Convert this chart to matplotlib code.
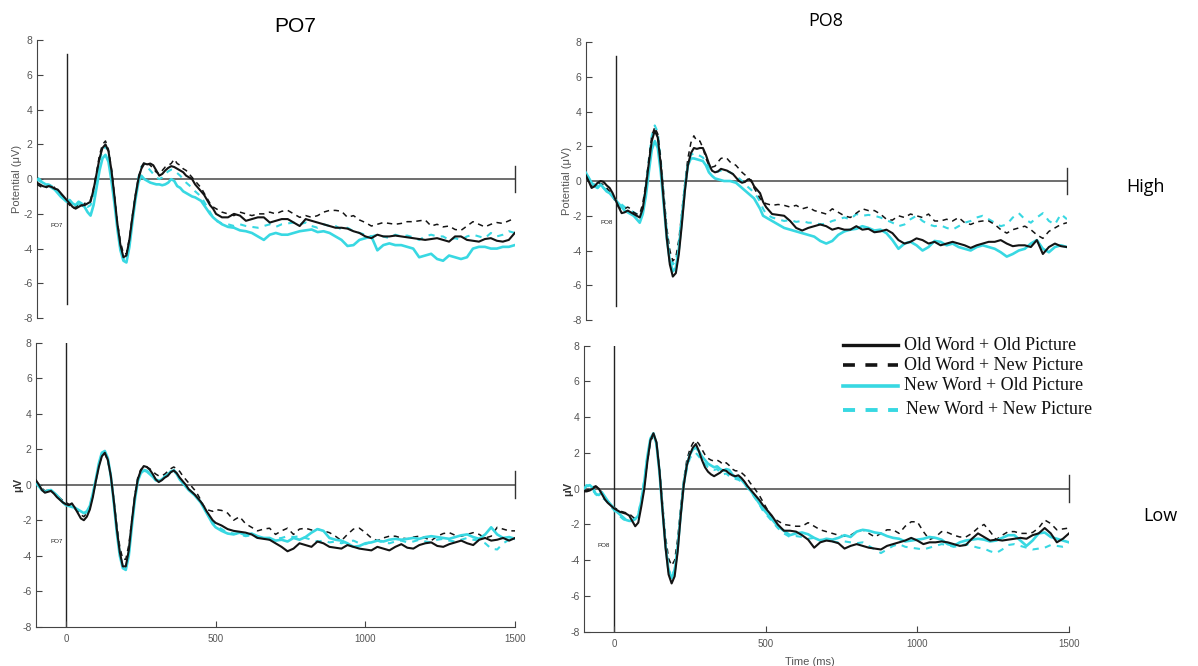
import matplotlib.pyplot as plt
from matplotlib.lines import Line2D

plt.rcParams['font.family'] = ['Liberation Sans', 'DejaVu Sans']
plt.rcParams['axes.unicode_minus'] = False

# sample times (ms): 10 ms steps up to 490, then 20 ms steps
times = list(range(-100, 500, 10)) + list(range(500, 1501, 20))

# PO7, high
po7_high_oo = [
    -0.2, -0.3, -0.4, -0.45, -0.4, -0.45, -0.55, -0.6, -0.8, -1.0,
    -1.2, -1.4, -1.6, -1.7, -1.6, -1.5, -1.5, -1.4, -1.3, -0.6,
    0.3, 1.2, 1.8, 2.0, 1.6, 0.5, -1.0, -2.6, -3.8, -4.5,
    -4.4, -3.5, -2.2, -1.0, 0.0, 0.6, 0.9, 0.85, 0.9, 0.8,
    0.5, 0.2, 0.3, 0.5, 0.65, 0.75, 0.7, 0.6, 0.5, 0.4,
    0.2, 0.1, 0.0, -0.3, -0.5, -0.7, -0.9, -1.2, -1.5, -1.7,
    -2.0, -2.2, -2.2, -2.0, -2.1, -2.4, -2.3, -2.2, -2.2, -2.5,
    -2.4, -2.3, -2.3, -2.5, -2.7, -2.3, -2.4, -2.5, -2.6, -2.7,
    -2.8, -2.8, -2.85, -3.0, -3.1, -3.3, -3.4, -3.2, -3.3, -3.3,
    -3.25, -3.3, -3.35, -3.4, -3.45, -3.5, -3.45, -3.4, -3.5, -3.6,
    -3.3, -3.3, -3.5, -3.55, -3.6, -3.45, -3.4, -3.55, -3.6, -3.5,
    -3.1]
po7_high_on = [
    -0.3, -0.4, -0.5, -0.5, -0.4, -0.3, -0.5, -0.7, -0.9, -1.1,
    -1.3, -1.5, -1.7, -1.6, -1.5, -1.6, -1.4, -1.3, -1.2, -0.5,
    0.4, 1.4, 2.0, 2.2, 1.7, 0.6, -0.9, -2.5, -3.6, -4.3,
    -4.3, -3.4, -2.1, -0.9, 0.1, 0.7, 1.0, 0.9, 0.8, 0.6,
    0.4, 0.3, 0.5, 0.7, 0.8, 0.9, 1.15, 0.9, 0.8, 0.6,
    0.5, 0.3, 0.1, -0.1, -0.3, -0.5, -0.8, -1.1, -1.4, -1.6,
    -1.7, -1.9, -2.0, -2.1, -1.9, -2.0, -2.1, -2.0, -2.0, -1.9,
    -2.0, -1.85, -1.8, -2.0, -2.2, -2.1, -2.2, -2.1, -1.9, -1.8,
    -1.8, -1.85, -2.2, -2.1, -2.35, -2.5, -2.7, -2.6, -2.5, -2.55,
    -2.6, -2.55, -2.45, -2.45, -2.4, -2.35, -2.7, -2.6, -2.75, -2.7,
    -2.9, -2.95, -2.7, -2.45, -2.6, -2.75, -2.6, -2.5, -2.55, -2.4,
    -2.25]
po7_high_no = [
    0.0, -0.1, -0.2, -0.3, -0.35, -0.5, -0.6, -0.8, -1.0, -1.15,
    -1.3, -1.2, -1.4, -1.5, -1.3, -1.4, -1.6, -1.9, -2.1, -1.5,
    -0.5, 0.5, 1.2, 1.4, 1.0, -0.1, -1.4, -2.9, -4.1, -4.7,
    -4.8, -3.9, -2.5, -1.2, -0.2, 0.2, 0.0, -0.1, -0.2, -0.25,
    -0.3, -0.3, -0.35, -0.3, -0.2, 0.0, -0.1, -0.4, -0.5, -0.7,
    -0.8, -0.9, -1.0, -1.05, -1.15, -1.25, -1.5, -1.75, -2.0, -2.2,
    -2.35, -2.6, -2.75, -2.8, -2.95, -3.0, -3.1, -3.3, -3.5, -3.2,
    -3.1, -3.2, -3.2, -3.1, -3.0, -2.95, -2.9, -3.05, -3.0, -3.1,
    -3.3, -3.5, -3.85, -3.8, -3.5, -3.4, -3.3, -4.1, -3.8, -3.7,
    -3.8, -3.8, -3.9, -4.0, -4.5, -4.4, -4.3, -4.6, -4.7, -4.4,
    -4.5, -4.6, -4.5, -4.0, -3.9, -3.9, -4.0, -4.0, -3.9, -3.9,
    -3.8]
po7_high_nn = [
    0.1, 0.0, -0.2, -0.3, -0.3, -0.4, -0.5, -0.7, -0.9, -1.1,
    -1.25, -1.3, -1.5, -1.55, -1.45, -1.5, -1.5, -1.6, -1.5, -0.9,
    0.0, 1.0, 1.7, 1.9, 1.5, 0.4, -1.1, -2.7, -3.9, -4.6,
    -4.6, -3.7, -2.3, -1.0, 0.1, 0.7, 0.9, 0.7, 0.5, 0.3,
    0.1, 0.0, 0.1, 0.3, 0.45, 0.55, 0.5, 0.35, 0.2, 0.0,
    -0.2, -0.35, -0.5, -0.7, -0.85, -1.0, -1.3, -1.6, -1.9, -2.2,
    -2.4, -2.55, -2.6, -2.7, -2.6, -2.7, -2.75, -2.8, -2.7, -2.6,
    -2.75, -2.6, -2.55, -2.5, -2.6, -2.5, -2.7, -2.8, -2.6, -2.7,
    -2.7, -2.9, -2.8, -3.0, -3.1, -3.2, -3.3, -3.2, -3.3, -3.4,
    -3.2, -3.3, -3.25, -3.35, -3.5, -3.3, -3.2, -3.3, -3.3, -3.5,
    -3.4, -3.5, -3.3, -3.2, -3.3, -3.4, -3.1, -3.3, -3.2, -3.0,
    -3.1]

# PO8, high
po8_high_oo = [
    0.35, 0.0, -0.4, -0.3, -0.1, 0.0, -0.05, -0.25, -0.4, -0.7,
    -1.1, -1.5, -1.85, -1.8, -1.7, -1.8, -1.9, -2.0, -2.1, -1.6,
    -0.4, 1.0, 2.3, 2.9, 2.5, 0.9, -1.2, -3.3, -4.8, -5.5,
    -5.3, -4.2, -2.5, -0.6, 0.9, 1.6, 1.9, 1.85, 1.9, 1.9,
    1.5, 1.0, 0.6, 0.5, 0.55, 0.7, 0.65, 0.6, 0.5, 0.4,
    0.2, 0.0, -0.1, -0.05, 0.1, 0.05, -0.3, -0.5, -0.7, -1.2,
    -1.5, -1.9, -1.95, -2.0, -2.3, -2.7, -2.85, -2.7, -2.6, -2.5,
    -2.6, -2.8, -2.7, -2.8, -2.8, -2.6, -2.8, -2.75, -2.95, -2.9,
    -2.8, -3.0, -3.4, -3.6, -3.5, -3.3, -3.4, -3.6, -3.5, -3.7,
    -3.6, -3.5, -3.6, -3.7, -3.85, -3.7, -3.6, -3.5, -3.5, -3.4,
    -3.6, -3.75, -3.7, -3.7, -3.8, -3.4, -4.2, -3.8, -3.6, -3.75,
    -3.8]
po8_high_on = [
    0.3, 0.0, -0.3, -0.2, -0.1, -0.15, -0.2, -0.4, -0.6, -0.9,
    -1.2, -1.5, -1.6, -1.6, -1.5, -1.6, -1.8, -1.9, -1.9, -1.3,
    -0.2, 1.2, 2.6, 3.1, 2.7, 1.2, -0.8, -2.7, -4.0, -4.6,
    -4.4, -3.4, -1.8, -0.1, 1.3, 2.2, 2.6, 2.3, 2.3, 1.9,
    1.3, 0.9, 0.8, 0.85, 1.1, 1.3, 1.35, 1.3, 1.1, 1.0,
    0.9, 0.7, 0.5, 0.35, 0.2, 0.0, -0.4, -0.7, -1.0, -1.2,
    -1.3, -1.4, -1.35, -1.4, -1.5, -1.4, -1.6, -1.5, -1.7, -1.8,
    -1.9, -1.6, -1.8, -2.0, -2.1, -1.85, -1.6, -1.7, -1.7, -1.9,
    -2.2, -2.25, -2.0, -2.1, -1.9, -2.0, -2.1, -1.9, -2.3, -2.3,
    -2.2, -2.3, -2.1, -2.4, -2.5, -2.35, -2.3, -2.3, -2.5, -2.8,
    -3.0, -2.8, -2.7, -2.6, -2.8, -3.1, -3.3, -2.9, -2.7, -2.5,
    -2.4]
po8_high_no = [
    0.5, 0.2, -0.1, -0.3, -0.4, -0.2, -0.4, -0.6, -0.7, -0.9,
    -1.1, -1.3, -1.5, -1.7, -1.8, -1.9, -2.0, -2.2, -2.4, -1.9,
    -0.9, 0.5, 1.8, 2.3, 1.9, 0.5, -1.4, -3.3, -4.6, -5.2,
    -5.0, -3.9, -2.2, -0.4, 0.9, 1.3, 1.3, 1.25, 1.2, 1.15,
    0.9, 0.5, 0.3, 0.15, 0.1, 0.05, 0.0, 0.0, 0.0, -0.05,
    -0.1, -0.25, -0.4, -0.55, -0.7, -0.85, -1.0, -1.3, -1.6, -2.0,
    -2.1, -2.3, -2.5, -2.7, -2.8, -2.9, -3.0, -3.1, -3.2, -3.45,
    -3.6, -3.45, -3.1, -2.9, -2.8, -2.75, -2.6, -2.7, -2.85, -2.8,
    -3.0, -3.4, -3.9, -3.6, -3.5, -3.7, -4.0, -3.8, -3.45, -3.5,
    -3.7, -3.6, -3.8, -3.9, -4.0, -3.8, -3.7, -3.8, -3.9, -4.1,
    -4.35, -4.2, -4.0, -3.9, -3.6, -3.4, -3.9, -4.1, -3.8, -3.7,
    -3.8]
po8_high_nn = [
    0.4, 0.2, -0.1, -0.2, -0.3, -0.2, -0.4, -0.5, -0.7, -0.9,
    -1.1, -1.2, -1.35, -1.5, -1.6, -1.7, -1.8, -1.9, -2.0, -1.5,
    -0.3, 1.2, 2.6, 3.2, 2.8, 1.2, -0.9, -2.9, -4.2, -4.8,
    -4.6, -3.5, -1.9, -0.3, 0.9, 1.5, 1.6, 1.5, 1.45, 1.35,
    1.1, 0.8, 0.55, 0.5, 0.55, 0.6, 0.6, 0.55, 0.5, 0.4,
    0.3, 0.15, 0.0, -0.2, -0.35, -0.5, -0.7, -0.9, -1.2, -1.6,
    -1.9, -2.1, -2.2, -2.3, -2.25, -2.35, -2.3, -2.4, -2.4, -2.5,
    -2.45, -2.3, -2.2, -2.1, -2.2, -1.9, -2.0, -1.95, -2.0, -2.1,
    -2.25, -2.4, -2.6, -2.5, -2.2, -2.0, -2.3, -2.5, -2.6, -2.55,
    -2.7, -2.8, -2.6, -2.4, -2.3, -2.1, -2.0, -2.2, -2.4, -2.6,
    -2.5, -2.1, -1.85, -2.2, -2.4, -2.1, -1.85, -2.3, -2.5, -1.9,
    -2.2]

# PO7, low
po7_low_oo = [
    0.25, 0.0, -0.3, -0.45, -0.4, -0.35, -0.5, -0.7, -0.85, -1.0,
    -1.1, -1.15, -1.05, -1.3, -1.6, -1.9, -2.0, -1.8, -1.4, -0.7,
    0.2, 1.0, 1.6, 1.8, 1.4, 0.5, -0.9, -2.5, -3.8, -4.6,
    -4.6, -3.7, -2.1, -0.7, 0.3, 0.8, 1.05, 1.0, 0.85, 0.6,
    0.3, 0.15, 0.25, 0.4, 0.5, 0.7, 0.8, 0.65, 0.4, 0.2,
    0.0, -0.25, -0.4, -0.55, -0.75, -0.95, -1.2, -1.5, -1.75, -2.0,
    -2.15, -2.3, -2.5, -2.6, -2.65, -2.7, -2.8, -3.0, -3.05, -3.1,
    -3.3, -3.5, -3.75, -3.6, -3.3, -3.4, -3.5, -3.2, -3.3, -3.5,
    -3.55, -3.6, -3.4, -3.5, -3.6, -3.65, -3.7, -3.5, -3.6, -3.7,
    -3.5, -3.35, -3.55, -3.6, -3.4, -3.3, -3.25, -3.45, -3.5, -3.35,
    -3.25, -3.15, -3.3, -3.4, -3.1, -3.0, -3.15, -3.1, -3.0, -3.15,
    -3.0]
po7_low_on = [
    0.2, 0.0, -0.2, -0.35, -0.3, -0.3, -0.45, -0.6, -0.75, -0.9,
    -1.0, -1.1, -1.2, -1.35, -1.5, -1.7, -1.8, -1.6, -1.2, -0.5,
    0.3, 1.1, 1.6, 1.75, 1.35, 0.5, -0.8, -2.3, -3.5, -4.2,
    -4.2, -3.4, -2.0, -0.6, 0.4, 0.85, 1.0, 1.0, 0.9, 0.75,
    0.6, 0.5, 0.5, 0.6, 0.75, 0.9, 1.0, 0.9, 0.75, 0.5,
    0.3, 0.1, -0.1, -0.3, -0.55, -0.85, -1.2, -1.4, -1.45, -1.5,
    -1.4, -1.45, -1.6, -2.0, -1.8, -2.2, -2.4, -2.6, -2.5, -2.45,
    -2.8, -2.6, -2.45, -2.8, -2.5, -2.45, -2.55, -2.5, -2.6, -2.7,
    -2.9, -3.15, -2.8, -2.5, -2.45, -2.7, -3.0, -3.15, -3.0, -2.9,
    -2.9, -3.0, -3.05, -2.95, -2.9, -3.0, -3.15, -2.9, -2.75, -2.7,
    -2.85, -2.9, -2.8, -2.7, -2.8, -3.0, -2.9, -2.4, -2.5, -2.6,
    -2.6]
po7_low_no = [
    0.1, -0.1, -0.3, -0.4, -0.35, -0.3, -0.45, -0.6, -0.8, -1.0,
    -1.15, -1.2, -1.25, -1.3, -1.4, -1.5, -1.6, -1.5, -1.2, -0.5,
    0.3, 1.2, 1.8, 1.9, 1.5, 0.5, -1.0, -2.7, -4.0, -4.7,
    -4.8, -4.0, -2.4, -0.9, 0.2, 0.65, 0.8, 0.75, 0.6, 0.45,
    0.25, 0.2, 0.3, 0.45, 0.55, 0.75, 0.8, 0.6, 0.3, 0.1,
    -0.1, -0.3, -0.45, -0.6, -0.8, -1.0, -1.3, -1.6, -1.9, -2.2,
    -2.4, -2.6, -2.75, -2.8, -2.7, -2.85, -2.75, -2.9, -3.0, -3.0,
    -3.15, -3.1, -3.2, -3.0, -3.1, -2.95, -2.7, -2.5, -2.6, -3.0,
    -3.1, -3.15, -3.3, -3.5, -3.45, -3.3, -3.25, -3.15, -3.2, -3.1,
    -3.05, -3.1, -3.05, -3.0, -3.05, -2.95, -2.9, -2.95, -3.0, -3.05,
    -2.95, -2.85, -2.8, -2.95, -3.05, -2.8, -2.4, -2.8, -3.0, -2.95,
    -3.05]
po7_low_nn = [
    0.15, 0.0, -0.25, -0.4, -0.3, -0.3, -0.45, -0.6, -0.8, -1.0,
    -1.1, -1.2, -1.2, -1.3, -1.45, -1.55, -1.65, -1.55, -1.25, -0.55,
    0.25, 1.1, 1.7, 1.85, 1.45, 0.5, -1.0, -2.6, -3.9, -4.6,
    -4.7, -3.9, -2.3, -0.8, 0.25, 0.7, 0.85, 0.8, 0.65, 0.5,
    0.3, 0.25, 0.35, 0.5, 0.6, 0.8, 0.85, 0.65, 0.35, 0.15,
    -0.05, -0.25, -0.4, -0.55, -0.75, -0.95, -1.25, -1.55, -1.85, -2.1,
    -2.3, -2.5, -2.7, -2.75, -2.8, -2.9, -2.85, -3.0, -2.95, -3.1,
    -3.05, -3.0, -2.9, -2.95, -2.9, -3.0, -3.1, -3.2, -3.15, -3.25,
    -3.2, -3.3, -3.2, -3.15, -3.3, -3.35, -3.2, -3.15, -3.25, -3.3,
    -3.2, -3.15, -3.25, -3.2, -3.1, -3.2, -3.25, -3.1, -3.05, -3.15,
    -3.2, -3.1, -3.0, -3.1, -3.15, -3.3, -3.6, -3.65, -3.3, -3.1,
    -3.2]

# PO8, low
po8_low_oo = [
    -0.15, -0.15, -0.1, 0.0, 0.13, 0.0, -0.3, -0.6, -0.8, -0.95,
    -1.1, -1.2, -1.3, -1.35, -1.4, -1.5, -1.8, -2.1, -1.9, -1.0,
    0.0, 1.5, 2.7, 3.1, 2.6, 1.0, -1.2, -3.3, -4.8, -5.3,
    -4.9, -3.5, -1.5, 0.2, 1.3, 1.9, 2.3, 2.5, 2.1, 1.6,
    1.2, 0.95, 0.8, 0.7, 0.8, 0.9, 1.05, 1.0, 0.85, 0.75,
    0.7, 0.75, 0.6, 0.4, 0.15, -0.05, -0.25, -0.45, -0.65, -0.9,
    -1.1, -1.5, -2.0, -2.35, -2.35, -2.4, -2.6, -2.85, -3.3, -3.0,
    -2.9, -2.95, -3.05, -3.35, -3.2, -3.1, -3.2, -3.3, -3.35, -3.4,
    -3.2, -3.1, -3.0, -2.9, -2.75, -2.9, -3.1, -3.0, -3.0, -2.95,
    -3.0, -3.1, -3.2, -3.15, -2.8, -2.5, -2.7, -2.9, -2.85, -2.9,
    -2.85, -2.8, -2.75, -2.8, -2.6, -2.5, -2.2, -2.5, -3.0, -2.8,
    -2.5]
po8_low_on = [
    -0.1, -0.1, 0.0, 0.1, 0.15, 0.0, -0.2, -0.5, -0.7, -0.9,
    -1.05, -1.15, -1.25, -1.3, -1.35, -1.4, -1.55, -1.7, -1.6, -0.8,
    0.2, 1.5, 2.6, 3.0, 2.6, 1.2, -0.8, -2.7, -3.9, -4.3,
    -4.0, -2.8, -1.0, 0.5, 1.6, 2.2, 2.55, 2.7, 2.5, 2.2,
    1.9, 1.7, 1.6, 1.55, 1.6, 1.5, 1.35, 1.45, 1.3, 1.1,
    1.0, 1.0, 0.9, 0.75, 0.55, 0.3, 0.1, -0.15, -0.4, -0.7,
    -1.0, -1.6, -1.8, -2.0, -2.05, -2.1, -2.1, -1.9, -2.1, -2.3,
    -2.4, -2.5, -2.6, -2.65, -2.6, -2.4, -2.3, -2.5, -2.7, -2.5,
    -2.3, -2.3, -2.5, -2.1, -1.85, -1.85, -2.4, -2.85, -2.7, -2.4,
    -2.45, -2.6, -2.7, -2.7, -2.5, -2.2, -2.0, -2.4, -2.85, -2.6,
    -2.4, -2.4, -2.5, -2.5, -2.45, -2.2, -1.75, -1.95, -2.3, -2.25,
    -2.2]
po8_low_no = [
    0.0, 0.15, 0.2, 0.05, -0.3, -0.35, -0.2, -0.45, -0.7, -0.9,
    -1.1, -1.3, -1.45, -1.6, -1.75, -1.8, -1.8, -1.7, -1.5, -0.7,
    0.4, 1.8, 2.8, 3.1, 2.5, 0.9, -1.2, -3.2, -4.6, -5.0,
    -4.6, -3.3, -1.4, 0.3, 1.3, 1.9, 2.2, 2.3, 2.1, 1.8,
    1.6, 1.4, 1.3, 1.2, 1.25, 1.1, 1.0, 1.1, 1.05, 0.8,
    0.65, 0.6, 0.5, 0.3, 0.1, -0.1, -0.35, -0.6, -0.85, -1.1,
    -1.3, -1.7, -2.1, -2.35, -2.6, -2.5, -2.45, -2.55, -2.75, -2.9,
    -2.8, -2.85, -2.75, -2.6, -2.7, -2.4, -2.3, -2.35, -2.45, -2.5,
    -2.65, -2.75, -2.8, -2.95, -2.9, -2.85, -2.8, -2.7, -2.75, -2.85,
    -3.1, -3.2, -3.0, -2.9, -2.85, -2.8, -2.85, -2.95, -2.9, -2.75,
    -2.6, -2.6, -2.9, -3.2, -2.9, -2.5, -2.45, -2.7, -2.8, -2.9,
    -3.0]
po8_low_nn = [
    0.1, 0.2, 0.1, -0.1, -0.3, -0.45, -0.5, -0.6, -0.8, -1.0,
    -1.2, -1.4, -1.55, -1.7, -1.8, -1.85, -1.75, -1.65, -1.4, -0.6,
    0.5, 1.8, 2.7, 3.0, 2.5, 0.9, -1.2, -3.1, -4.5, -4.9,
    -4.5, -3.2, -1.4, 0.2, 1.1, 1.7, 1.95, 2.0, 1.8, 1.55,
    1.4, 1.2, 1.1, 1.05, 1.1, 0.9, 0.8, 0.85, 0.7, 0.6,
    0.55, 0.5, 0.4, 0.25, 0.05, -0.15, -0.4, -0.65, -0.9, -1.2,
    -1.4, -1.8, -2.2, -2.5, -2.7, -2.65, -2.7, -2.8, -2.75, -2.85,
    -2.9, -2.95, -3.0, -2.95, -3.0, -3.05, -3.0, -3.2, -3.4, -3.6,
    -3.4, -3.2, -3.1, -3.25, -3.3, -3.35, -3.4, -3.3, -3.2, -3.1,
    -3.15, -3.25, -3.2, -3.1, -3.2, -3.3, -3.35, -3.5, -3.6, -3.4,
    -3.15, -3.1, -3.2, -3.3, -3.4, -3.35, -3.3, -3.15, -3.2, -3.25,
    -3.2]

conditions = ['Old Word + Old Picture', 'Old Word + New Picture',
              'New Word + Old Picture', 'New Word + New Picture']
yticks = [-8, -6, -4, -2, 0, 2, 4, 6, 8]
xticks = [0, 500, 1000, 1500]

black = '#141414'
cyan = '#38d8e2'
# draw order: dashed first, then cyan solid, black solid on top
styles = {
    'nn': dict(color=cyan, lw=1.5, ls=(0, (3, 3)), zorder=2),
    'on': dict(color=black, lw=1.1, ls=(0, (3.5, 3)), zorder=3),
    'no': dict(color=cyan, lw=1.9, ls='-', zorder=4),
    'oo': dict(color=black, lw=1.5, ls='-', zorder=5),
}

fig = plt.figure(figsize=(11.98, 6.66), dpi=100)


def draw_panel(rect, series, channel, chan_xy, ylabel, ylabel_x, bottom):
    ax = fig.add_axes(rect)
    for key in ['nn', 'on', 'no', 'oo']:
        ax.plot(times, series[key], **styles[key])
    ax.set_xlim(-100, 1500)
    ax.set_ylim(-8, 8)
    # baseline, stimulus onset and end marker
    ax.plot([-100, 1500], [0, 0], color='#555555', lw=1.2, zorder=1)
    if bottom:
        ax.axvline(0, color='#222222', lw=1.0, zorder=1)
    else:
        ax.axvline(0, ymin=0.05, ymax=0.95, color='#222222', lw=1.0, zorder=1)
    ax.plot([1500, 1500], [-0.75, 0.75], color='#333333', lw=1.0,
            clip_on=False, zorder=1)
    ax.text(chan_xy[0], chan_xy[1], channel, fontsize=4.5, ha='center',
            va='center', color='#222222')

    for side in ['top', 'right']:
        ax.spines[side].set_visible(False)
    ax.spines['left'].set_color('#444444')
    ax.set_yticks(yticks)
    ax.tick_params(axis='y', direction='in', length=4, labelsize=7.5,
                   labelcolor='#555555', color='#444444', pad=3)
    if bottom:
        ax.spines['bottom'].set_color('#444444')
        ax.set_xticks(xticks)
        ax.tick_params(axis='x', direction='in', length=4, labelsize=7,
                       labelcolor='#555555', color='#444444', pad=5)
    else:
        ax.spines['bottom'].set_visible(False)
        ax.set_xticks([])
    ax.patch.set_alpha(0)

    if ylabel == 'μV':
        ax.set_ylabel(ylabel, fontsize=8, fontweight='bold', color='#333333')
    else:
        ax.set_ylabel(ylabel, fontsize=8, color='#555555')
    ax.yaxis.set_label_coords(ylabel_x, 0.5)
    return ax


draw_panel([0.0307, 0.5225, 0.399, 0.417],
           dict(oo=po7_high_oo, on=po7_high_on, no=po7_high_no, nn=po7_high_nn),
           'PO7', (-32, -2.65), 'Potential (μV)', -0.031, False)
draw_panel([0.4888, 0.5195, 0.4018, 0.4174],
           dict(oo=po8_high_oo, on=po8_high_on, no=po8_high_no, nn=po8_high_nn),
           'PO8', (-29, -2.36), 'Potential (μV)', -0.028, False)
draw_panel([0.0300, 0.0590, 0.4000, 0.4264],
           dict(oo=po7_low_oo, on=po7_low_on, no=po7_low_no, nn=po7_low_nn),
           'PO7', (-32, -3.2), 'μV', -0.027, True)
ax_br = draw_panel([0.4872, 0.0515, 0.4051, 0.4294],
                   dict(oo=po8_low_oo, on=po8_low_on, no=po8_low_no, nn=po8_low_nn),
                   'PO8', (-33, -3.2), 'μV', -0.022, True)
ax_br.set_xlabel('Time (ms)', fontsize=8, color='#555555')
ax_br.xaxis.set_label_coords(0.466, -0.088)

# column and row headings
fig.text(295 / 1198, 1 - 27 / 666, 'PO7', fontsize=15, ha='center', va='center')
fig.text(826 / 1198, 1 - 21 / 666, 'PO8', fontsize=13, ha='center', va='center',
         family=['Open Sans', 'DejaVu Sans'])
fig.text(1145 / 1198, 1 - 187 / 666, 'High', fontsize=13, ha='center',
         va='center', family=['Open Sans', 'DejaVu Sans'])
fig.text(1160 / 1198, 1 - 516 / 666, 'Low', fontsize=13, ha='center',
         va='center', family=['Open Sans', 'DejaVu Sans'])

# legend
legend_rows = [345, 365, 386, 410]
legend_text_x = [904, 904, 904, 906]
legend_styles = [
    dict(color=black, lw=2.4, ls='-'),
    dict(color=black, lw=2.6, ls=(0, (3.3, 2.9))),
    dict(color=cyan, lw=2.6, ls='-'),
    dict(color=cyan, lw=2.8, ls=(0, (3.1, 2.7))),
]
for label, row, tx, st in zip(conditions, legend_rows, legend_text_x,
                              legend_styles):
    y = 1 - row / 666
    fig.add_artist(Line2D([843 / 1198, 898 / 1198], [y, y],
                          transform=fig.transFigure, **st))
    fig.text(tx / 1198, y, label, fontsize=13, va='center', ha='left',
             family=['Liberation Serif', 'DejaVu Serif'], color='#111111')

fig.savefig('out.png', dpi=100)
